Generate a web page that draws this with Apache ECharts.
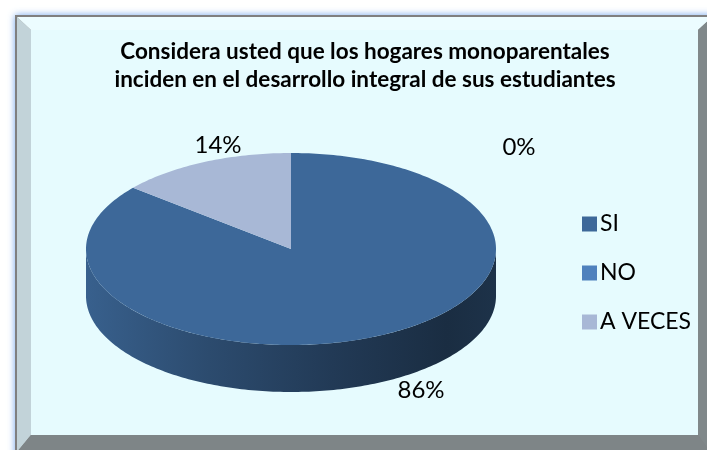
<!DOCTYPE html>
<html><head><meta charset="utf-8">
<script src="https://cdn.jsdelivr.net/npm/echarts@6/dist/echarts.min.js"></script>
<style>html,body{margin:0;padding:0;background:#fff}#c{width:707px;height:450px}</style>
</head><body><div id="c"></div>
<script>
// ---- data ----
const categories = ['SI', 'NO', 'A VECES'];
const values = [86, 0, 14];
const percentLabels = ['86%', '0%', '14%'];
const titleLines = ['Considera usted que los hogares monoparentales', 'inciden en el desarrollo integral de sus estudiantes'];

// ---- style ----
const colors = ['#3d6899', '#4f81bd', '#a8b8d6'];
const labelAt = [[421, 390], [519, 147], [218, 145]];
const PIE = { cx: 291, cy: 249, rx: 205, ry: 96, depth: 47 };
const FONT = 'Lato';

const total = values.reduce((a, b) => a + b, 0);
const starts = [];
let acc = 0;
values.forEach(v => { starts.push(acc / total * 360); acc += v; });

function shade(c, k) {
  const a = echarts.color.parse(c);
  return 'rgb(' + [0, 1, 2].map(i => Math.round(a[i] * k)).join(',') + ')';
}
function pt(a, dy) {
  const r = a * Math.PI / 180;
  return [PIE.cx + PIE.rx * Math.sin(r), PIE.cy - PIE.ry * Math.cos(r) + (dy || 0)];
}
function arc(a0, a1, dy) {
  const n = Math.max(1, Math.ceil(Math.abs(a1 - a0)));
  const out = [];
  for (let i = 0; i <= n; i++) out.push(pt(a0 + (a1 - a0) * i / n, dy));
  return out;
}

function makeRender(idx) {
  return function (params, api) {
    const v = api.value(0);
    const a0 = starts[idx];
    const a1 = a0 + v / total * 360;
    const children = [];
    if (v > 0) {
      const s0 = Math.max(a0, 90), s1 = Math.min(a1, 270);
      if (s1 > s0) {
        const c = colors[idx];
        const pts = arc(s0, s1, 0).concat(arc(s1, s0, PIE.depth));
        children.push({
          type: 'polygon',
          shape: { points: pts },
          style: {
            fill: {
              type: 'linear', x: PIE.cx - PIE.rx, y: 0, x2: PIE.cx + PIE.rx, y2: 0, global: true,
              colorStops: [
                { offset: 0, color: shade(c, 0.92) },
                { offset: 0.3, color: shade(c, 0.72) },
                { offset: 0.6, color: shade(c, 0.56) },
                { offset: 0.88, color: shade(c, 0.43) },
                { offset: 1, color: shade(c, 0.48) }
              ]
            }
          }
        });
      }
      const top = [[PIE.cx, PIE.cy]].concat(arc(a0, a1, 0));
      children.push({ type: 'polygon', shape: { points: top }, style: { fill: colors[idx] } });
    }
    children.push({
      type: 'text',
      x: labelAt[idx][0], y: labelAt[idx][1],
      style: {
        text: percentLabels[idx], fill: '#000', font: '24px ' + FONT,
        align: 'center', verticalAlign: 'middle'
      }
    });
    return { type: 'group', children };
  };
}

const frame = [
  { type: 'rect', shape: { x: 15, y: 15, width: 720, height: 460 },
    style: { fill: '#808080', shadowBlur: 7, shadowColor: 'rgba(90,150,235,0.85)' } },
  { type: 'polygon', shape: { points: [[17, 17], [31, 30], [31, 435], [17, 452]] }, style: { fill: '#c2d3d9' } },
  { type: 'polygon', shape: { points: [[17, 17], [712, 17], [698, 30], [31, 30]] }, style: { fill: '#ecfcff' } },
  { type: 'polygon', shape: { points: [[712, 17], [712, 455], [698, 435], [698, 30]] }, style: { fill: '#80888a' } },
  { type: 'polygon', shape: { points: [[17, 452], [712, 455], [698, 435], [31, 435]] }, style: { fill: '#7e8587' } },
  { type: 'rect', shape: { x: 31, y: 30, width: 667, height: 405 }, style: { fill: '#e6fbfe' } },
  { type: 'text', x: 365, y: 38,
    style: { text: titleLines.join('\n'), font: 'bold 22.5px ' + FONT, fill: '#000', align: 'center', lineHeight: 28 } }
];

const chart = echarts.init(document.getElementById('c'), null, { renderer: 'canvas' });
chart.setOption({
  animation: false,
  graphic: { elements: frame.map((e, i) => Object.assign({ z: -10 + i * 0.01, silent: true }, e)) },
  legend: {
    orient: 'vertical', left: 577, top: 207,
    icon: 'rect', itemWidth: 15, itemHeight: 15, itemGap: 25,
    data: categories,
    textStyle: { fontFamily: FONT, fontSize: 23, color: '#000', lineHeight: 24, padding: [0, 0, 0, -2] }
  },
  series: categories.map((name, i) => ({
    type: 'custom', name, coordinateSystem: 'none',
    itemStyle: { color: colors[i] },
    data: [[values[i]]],
    renderItem: makeRender(i)
  }))
});
</script></body></html>
